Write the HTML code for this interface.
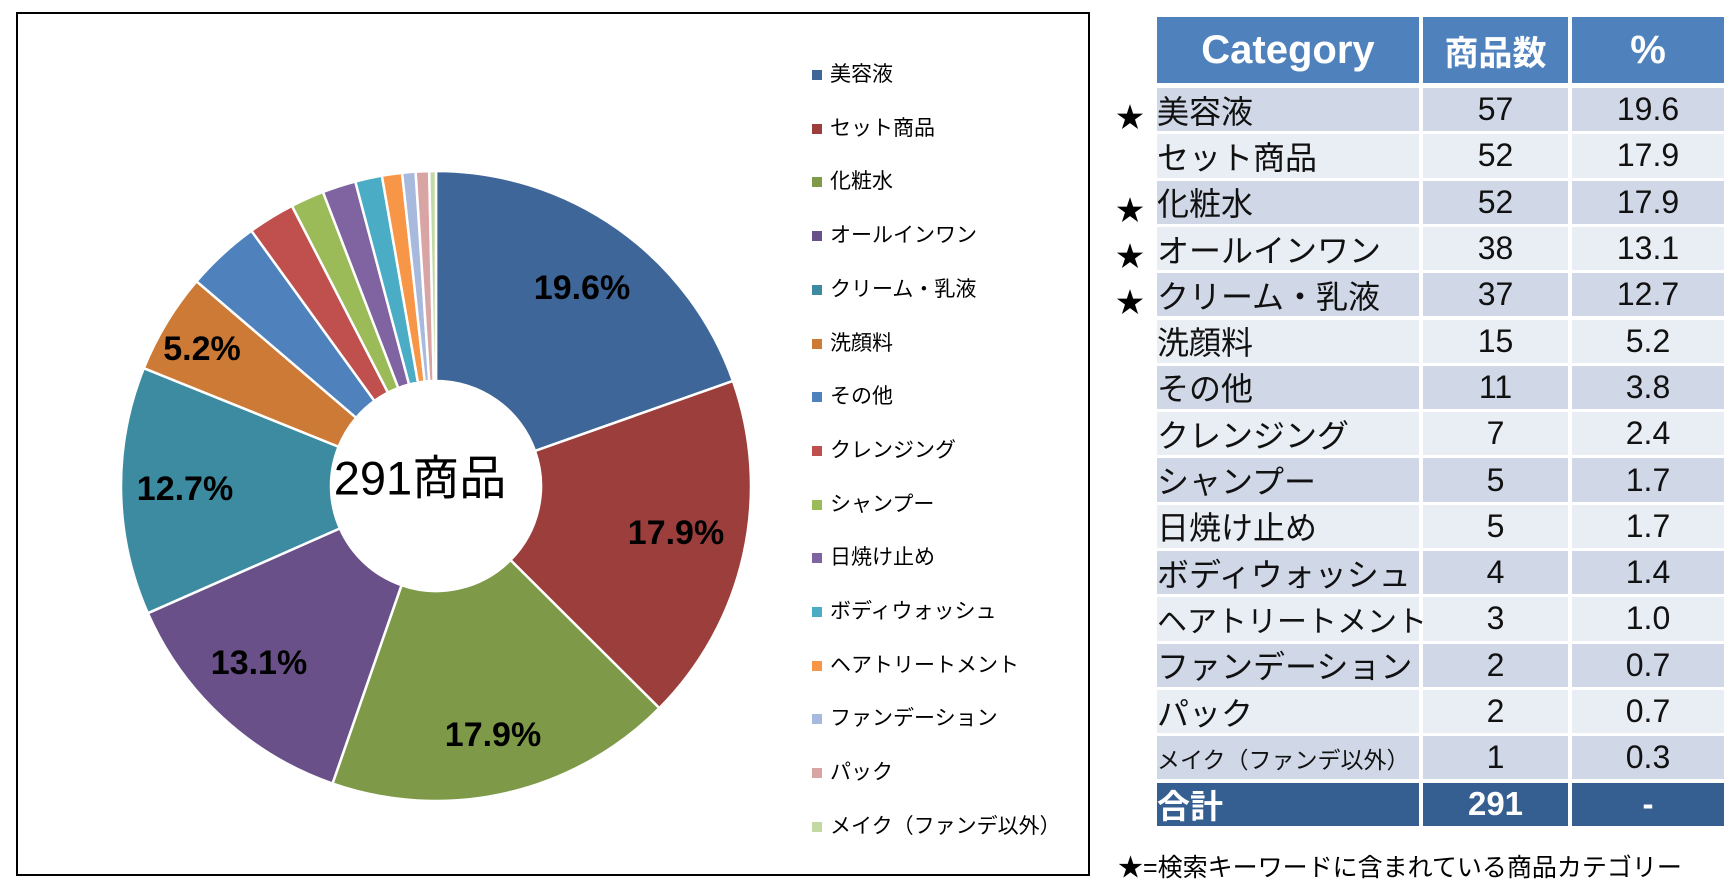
<!DOCTYPE html>
<html><head><meta charset="utf-8"><style>
body{margin:0;width:1731px;height:884px;background:#fff;position:relative;overflow:hidden;font-family:"Liberation Sans","Noto Sans CJK JP",sans-serif}
.box{position:absolute;left:16px;top:12px;width:1074px;height:864px;border:2px solid #000;box-sizing:border-box}
.lg{position:absolute;left:812px;font-size:21px;color:#000;white-space:nowrap}
.lg i{display:inline-block;width:10px;height:10px;margin-right:8px;vertical-align:1px}
.c{position:absolute;box-sizing:border-box;font-size:32px;color:#111;white-space:nowrap;display:flex;align-items:center;overflow:visible;font-family:"Liberation Sans Narrow","Liberation Sans","Noto Sans CJK JP",sans-serif}
.st{position:absolute;left:1116px;font-size:28px}
</style></head><body>
<div class="box"></div>
<svg id="pie" style="position:absolute;left:0;top:0" width="1100" height="884"></svg>
<div id="leg"></div>
<div id="tbl"></div>
<div style="position:absolute;left:1118px;top:848px;font-size:25px;white-space:nowrap">★=検索キーワードに含まれている商品カテゴリー</div>
<script>
var d=[["美容液",57,"19.6","#3e6699"],["セット商品",52,"17.9","#9b3e3c"],["化粧水",52,"17.9","#7e9a48"],["オールインワン",38,"13.1","#6a5088"],["クリーム・乳液",37,"12.7","#3d8ba0"],["洗顔料",15,"5.2","#cc7a35"],["その他",11,"3.8","#4f81bd"],["クレンジング",7,"2.4","#c0504d"],["シャンプー",5,"1.7","#9bbb59"],["日焼け止め",5,"1.7","#8064a2"],["ボディウォッシュ",4,"1.4","#4bacc6"],["ヘアトリートメント",3,"1.0","#f79646"],["ファンデーション",2,"0.7","#a7b9dd"],["パック",2,"0.7","#d9a5a4"],["メイク（ファンデ以外）",1,"0.3","#c4d8a3"]];
var cx=436,cy=486,R=315,r=105,a=0,s="";
function p(rad,ang){return [cx+rad*Math.sin(ang),cy-rad*Math.cos(ang)]}
d.forEach(function(e){var b=a+e[1]/291*2*Math.PI;var A=p(R,a),B=p(R,b),C=p(r,b),D=p(r,a),l=(b-a)>Math.PI?1:0;
s+='<path d="M'+A+' A'+R+','+R+' 0 '+l+' 1 '+B+' L'+C+' A'+r+','+r+' 0 '+l+' 0 '+D+' Z" fill="'+e[3]+'" stroke="#fff" stroke-width="2.5"/>';a=b;});
var L=[["19.6%",582,290],["17.9%",676,535],["17.9%",493,737],["13.1%",259,665],["12.7%",185,491],["5.2%",202,351]];
L.forEach(function(t){s+='<text x="'+t[1]+'" y="'+t[2]+'" font-size="34" font-weight="bold" text-anchor="middle" dominant-baseline="middle" font-family="Liberation Sans,sans-serif">'+t[0]+'</text>'});
s+='<text x="420" y="482" font-size="47" text-anchor="middle" dominant-baseline="middle" font-family="Liberation Sans,Noto Sans CJK JP,sans-serif">291商品</text>';
document.getElementById("pie").innerHTML=s;
var h="";d.forEach(function(e,i){h+='<div class="lg" style="top:'+(58+i*53.7)+'px"><i style="background:'+e[3]+'"></i>'+e[0]+'</div>'});
document.getElementById("leg").innerHTML=h;
var t="";
function cell(x,y,w,hh,bg,txt,st){t+='<div class="c" style="left:'+x+'px;top:'+y+'px;width:'+w+'px;height:'+hh+'px;background:'+bg+';'+st+'">'+txt+'</div>'}
var hs="color:#fff;font-weight:bold;justify-content:center;font-family:'Liberation Sans','Noto Sans CJK JP',sans-serif;";
cell(1157,17,262,66,"#4f81bd","Category",hs+"font-size:40px");
cell(1423,17,145,66,"#4f81bd","商品数",hs+"font-size:34px");
cell(1572,17,152,66,"#4f81bd","%",hs+"font-size:40px");
var y=88,rh=46.3;
d.forEach(function(e,i){var bg=i%2?"#e9edf4":"#d0d8e8";var fs=i==14?"font-size:23px;":(i==11?"font-size:30px;z-index:2;":"");
cell(1157,y,262,rh-3,bg,e[0],fs);cell(1423,y,145,rh-3,bg,e[1],"justify-content:center");cell(1572,y,152,rh-3,bg,e[2],"justify-content:center");
if([0,2,3,4].indexOf(i)>=0)t+='<div class="st" style="top:'+(y+8)+'px">★</div>';y+=rh;});
cell(1157,y,262,43,"#355f91","合計",hs+"justify-content:flex-start;font-size:33px");
cell(1423,y,145,43,"#355f91","291",hs+"font-size:33px");
cell(1572,y,152,43,"#355f91","-",hs+"font-size:33px");
document.getElementById("tbl").innerHTML=t;
</script>
</body></html>
